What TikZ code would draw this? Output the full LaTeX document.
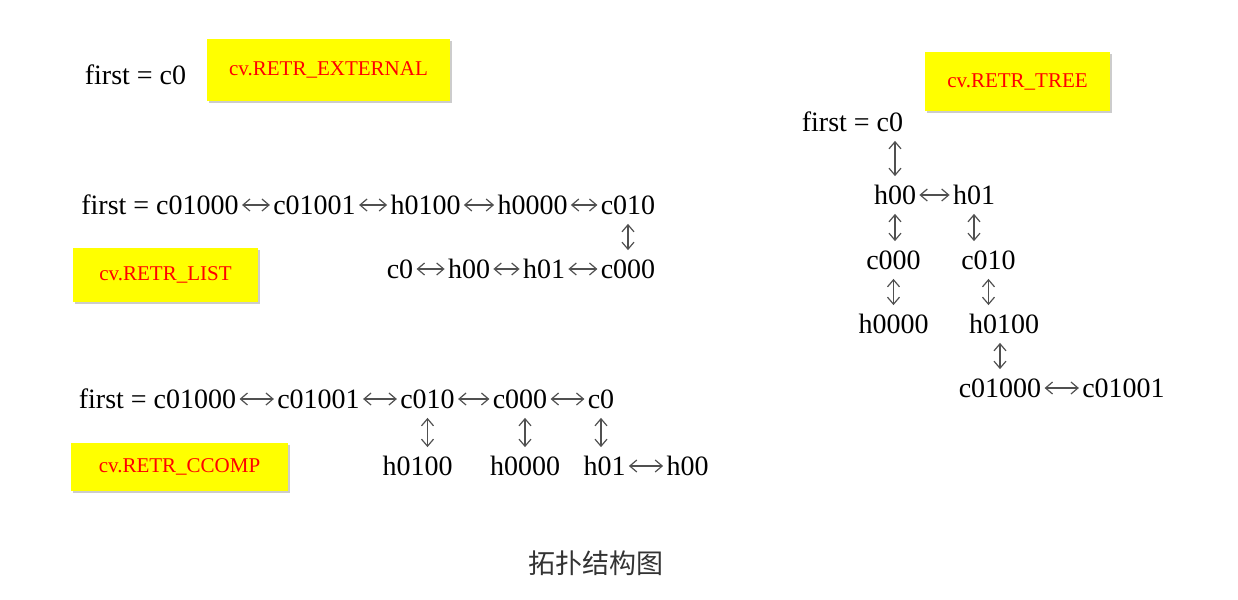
\documentclass[tikz,border=0pt]{standalone}
\usepackage{fontspec}
\setmainfont{Liberation Serif}
\newfontfamily\cjk{Noto Sans CJK SC}
\usepackage{xcolor}
\usetikzlibrary{arrows.meta,shadows}
\definecolor{arrowgray}{HTML}{505050}
\definecolor{boxyellow}{RGB}{255,255,0}
\definecolor{labelred}{RGB}{255,0,0}

\begin{document}
\begin{tikzpicture}[x=0.5pt,y=-0.5pt,
    txt/.style={font=\fontsize{14}{16}\selectfont, text height=9.5pt, text depth=0pt,
      inner xsep=1.5pt, inner ysep=4.5pt},
    modebox/.style={fill=boxyellow, text=labelred, font=\fontsize{10.5}{12}\selectfont,
      drop shadow={shadow xshift=1.2pt, shadow yshift=-1.2pt, fill=gray, opacity=0.4}},
    link/.style={draw=arrowgray, line width=0.6pt, <->,
      >={Straight Barb[length=3.5pt,width=6pt]}}]
    \useasboundingbox (0,0) rectangle (1238,600);
    \begin{scope}
      % RETR_EXTERNAL
      \node[txt] (e1) at (135.5,75) {first = c0};
      \node[modebox, minimum width=121.5pt, minimum height=31pt] (ext) at (328.5,70) {cv.RETR\_EXTERNAL};
    \end{scope}
    \begin{scope}
      % RETR_LIST
      \node[txt] (l1) at (160,205) {first = c01000};
      \node[txt] (l2) at (314.5,205) {c01001};
      \node[txt] (l3) at (425.5,205) {h0100};
      \node[txt] (l4) at (532.5,205) {h0000};
      \node[txt] (l5) at (628,205) {c010};
      \node[txt] (l6) at (400,269) {c0};
      \node[txt] (l7) at (469,269) {h00};
      \node[txt] (l8) at (544,269) {h01};
      \node[txt] (l9) at (628,269) {c000};
      \draw[link] (l1) -- (l2);
      \draw[link] (l2) -- (l3);
      \draw[link] (l3) -- (l4);
      \draw[link] (l4) -- (l5);
      \draw[link] (l5) -- (l9);
      \draw[link] (l6) -- (l7);
      \draw[link] (l7) -- (l8);
      \draw[link] (l8) -- (l9);
      \node[modebox, minimum width=92.5pt, minimum height=27pt] (list) at (165.5,275) {cv.RETR\_LIST};
    \end{scope}
    \begin{scope}
      % RETR_CCOMP
      \node[txt] (cc1) at (157.5,399) {first = c01000};
      \node[txt] (cc2) at (318.5,399) {c01001};
      \node[txt] (cc3) at (427.5,399) {c010};
      \node[txt] (cc4) at (520,399) {c000};
      \node[txt] (cc5) at (601,399) {c0};
      \node[txt] (cc6) at (417.5,466) {h0100};
      \node[txt] (cc7) at (525,466) {h0000};
      \node[txt] (cc8) at (604.5,466) {h01};
      \node[txt] (cc9) at (687.5,466) {h00};
      \draw[link] (cc1) -- (cc2);
      \draw[link] (cc2) -- (cc3);
      \draw[link] (cc3) -- (cc4);
      \draw[link] (cc4) -- (cc5);
      \draw[link] (cc3.south) -- (cc3.south |- cc6.north);
      \draw[link] (cc7 |- cc4.south) -- (cc7);
      \draw[link] (cc5.south) -- (cc5.south |- cc8.north);
      \draw[link] (cc8) -- (cc9);
      \node[modebox, minimum width=108.5pt, minimum height=24pt] (ccomp) at (179.5,467) {cv.RETR\_CCOMP};
    \end{scope}
    \begin{scope}
      % RETR_TREE
      \node[modebox, minimum width=92.5pt, minimum height=29.5pt] (tree) at (1017.5,81.5) {cv.RETR\_TREE};
      \node[txt] (t1) at (852.5,122) {first = c0};
      \node[txt] (t2) at (895,195) {h00};
      \node[txt] (t3) at (974,195) {h01};
      \node[txt] (t4) at (893.5,260) {c000};
      \node[txt] (t5) at (988.5,260) {c010};
      \node[txt] (t6) at (893.5,324) {h0000};
      \node[txt] (t7) at (1004,324) {h0100};
      \node[txt] (t8) at (1000,388) {c01000};
      \node[txt] (t9) at (1123.5,388) {c01001};
      \draw[link] (t1.south -| t2) -- (t2);
      \draw[link] (t2) -- (t3);
      \draw[link] (t2.south) -- (t2.south |- t4.north);
      \draw[link] (t3.south) -- (t3.south |- t5.north);
      \draw[link] (t4.south) -- (t4.south |- t6.north);
      \draw[link] (t5.south) -- (t5.south |- t7.north);
      \draw[link] (t8 |- t7.south) -- (t8);
      \draw[link] (t8) -- (t9);
    \end{scope}
    \node[font=\fontsize{13.5}{15}\selectfont\cjk, text=black!80] (caption) at (596,563) {拓扑结构图};
  \end{tikzpicture}
\end{document}
